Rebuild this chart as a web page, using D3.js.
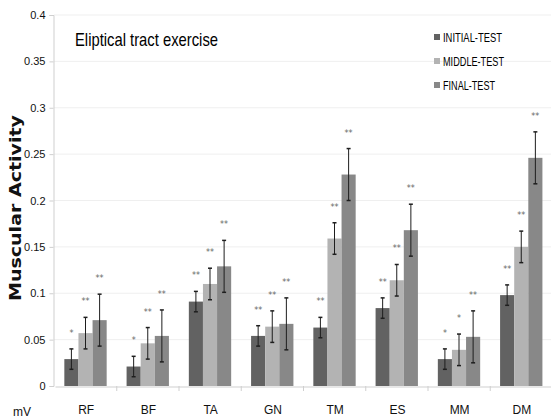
<!DOCTYPE html>
<html>
<head>
<meta charset="utf-8">
<script src="https://cdn.jsdelivr.net/npm/d3@7"></script>
<style>
  html, body { margin: 0; padding: 0; background: #fff; }
  text { font-family: "Liberation Sans Narrow", "Liberation Sans", Arial, sans-serif; }
</style>
</head>
<body>
<div id="chart"></div>
<script>
// Chart data
const categories = ['RF', 'BF', 'TA', 'GN', 'TM', 'ES', 'MM', 'DM'];
const seriesNames = ['INITIAL-TEST', 'MIDDLE-TEST', 'FINAL-TEST'];
const initialVals = [0.029, 0.021, 0.091, 0.054, 0.063, 0.084, 0.029, 0.098];
const middleVals  = [0.057, 0.046, 0.110, 0.064, 0.159, 0.114, 0.039, 0.150];
const finalVals   = [0.071, 0.054, 0.129, 0.067, 0.228, 0.168, 0.053, 0.246];
const initialErr  = [0.011, 0.011, 0.011, 0.011, 0.011, 0.011, 0.011, 0.011];
const middleErr   = [0.017, 0.017, 0.017, 0.017, 0.017, 0.017, 0.017, 0.017];
const finalErr    = [0.028, 0.028, 0.028, 0.028, 0.028, 0.028, 0.028, 0.028];
const initialSig  = ['*', '*', '**', '**', '**', '**', '*', '**'];
const middleSig   = ['**', '**', '**', '**', '**', '**', '*', '**'];
const finalSig    = ['**', '**', '**', '**', '**', '**', '**', '**'];
const yTicks = [0, 0.05, 0.1, 0.15, 0.2, 0.25, 0.3, 0.35, 0.4];

// Styling
const colors = { 'INITIAL-TEST': '#626262', 'MIDDLE-TEST': '#b3b3b3', 'FINAL-TEST': '#888888' };
const width = 551, height = 419;

const valueSets = [initialVals, middleVals, finalVals];
const errSets = [initialErr, middleErr, finalErr];
const sigSets = [initialSig, middleSig, finalSig];

const rows = [];
categories.forEach((cat, i) => {
    seriesNames.forEach((s, j) => {
        rows.push({ cat, series: s, value: valueSets[j][i], err: errSets[j][i], sig: sigSets[j][i] });
    });
});

const svg = d3.select('#chart')
    .append('svg')
    .attr('width', width)
    .attr('height', height)
    .style('display', 'block');

const y = d3.scaleLinear().domain([0, 0.4]).range([386, 15]);
const x0 = d3.scaleBand().domain(categories).range([55, 553]);
const x1 = d3.scaleBand().domain(seriesNames)
    .range([x0.bandwidth() * 0.15, x0.bandwidth() * 0.83]);

// Gridlines
svg.append('g')
    .selectAll('line')
    .data(yTicks.filter(d => d > 0))
    .join('line')
    .attr('x1', 54).attr('x2', width)
    .attr('y1', d => y(d)).attr('y2', d => y(d))
    .attr('stroke', '#efefef')
    .attr('stroke-width', 1);

// Y axis
const yAxis = svg.append('g')
    .attr('transform', 'translate(53.5,0)')
    .call(d3.axisLeft(y).tickValues(yTicks).tickFormat(d => d3.format('')(+d.toFixed(2))).tickSize(4));
yAxis.select('.domain').attr('stroke', '#cfcfcf');
yAxis.selectAll('.tick line').attr('stroke', '#cfcfcf');
yAxis.selectAll('.tick text')
    .attr('x', -8)
    .attr('fill', '#111')
    .style('font-size', '11px');

// X axis
const xAxis = svg.append('g')
    .attr('transform', `translate(0,${y(0) + 0.5})`)
    .call(d3.axisBottom(x0).tickSize(0).tickPadding(19));
xAxis.select('.domain').attr('stroke', '#cfcfcf');
xAxis.selectAll('.tick text')
    .attr('fill', '#111')
    .style('font-size', '12px');

// Category boundary ticks
svg.append('g')
    .selectAll('line')
    .data(categories.slice(1))
    .join('line')
    .attr('x1', d => x0(d) - 0.5).attr('x2', d => x0(d) - 0.5)
    .attr('y1', y(0)).attr('y2', y(0) + 5)
    .attr('stroke', '#cfcfcf');

svg.append('text')
    .attr('x', 22).attr('y', 416)
    .attr('text-anchor', 'middle')
    .attr('fill', '#111')
    .style('font-size', '12px')
    .text('mV');

// Bars
const groups = svg.append('g')
    .selectAll('g')
    .data(rows)
    .join('g')
    .attr('transform', d => `translate(${x0(d.cat) + x1(d.series)},0)`);

groups.append('rect')
    .attr('x', 0)
    .attr('width', x1.bandwidth())
    .attr('y', d => y(d.value))
    .attr('height', d => y(0) - y(d.value))
    .attr('fill', d => colors[d.series]);

// Error bars
const bw = x1.bandwidth();
groups.append('line')
    .attr('x1', bw / 2).attr('x2', bw / 2)
    .attr('y1', d => y(d.value + d.err))
    .attr('y2', d => y(d.value - d.err))
    .attr('stroke', '#1e1e1e')
    .attr('stroke-width', 1);
groups.selectAll('.cap')
    .data(d => [d.value + d.err, d.value - d.err])
    .join('line')
    .attr('class', 'cap')
    .attr('x1', bw / 2 - 2).attr('x2', bw / 2 + 2)
    .attr('y1', d => y(d)).attr('y2', d => y(d))
    .attr('stroke', '#1e1e1e')
    .attr('stroke-width', 1.5);

// Significance marks
groups.append('text')
    .attr('x', bw / 2)
    .attr('y', d => y(d.value + d.err) - 13)
    .attr('text-anchor', 'middle')
    .attr('fill', '#666')
    .style('font-size', '8px')
    .style('font-family', 'DejaVu Sans, sans-serif')
    .text(d => d.sig);

// Title
svg.append('text')
    .attr('x', 75).attr('y', 46)
    .attr('fill', '#000')
    .attr('textLength', 143)
    .attr('lengthAdjust', 'spacingAndGlyphs')
    .style('font-size', '19px')
    .text('Eliptical tract exercise');

// Y title
svg.append('text')
    .attr('transform', 'translate(21,208) rotate(-90)')
    .attr('text-anchor', 'middle')
    .attr('fill', '#111')
    .style('font-family', 'DejaVu Sans, sans-serif')
    .style('font-weight', 'bold')
    .style('font-size', '15.5px')
    .attr('textLength', 186)
    .attr('lengthAdjust', 'spacingAndGlyphs')
    .text('Muscular Activity');

// Legend
const legendWidths = [59, 61, 52];
const legend = svg.append('g')
    .selectAll('g')
    .data(seriesNames)
    .join('g')
    .attr('transform', (d, i) => `translate(434,${37 + i * 24})`);
legend.append('rect')
    .attr('x', 0).attr('y', -3)
    .attr('width', 6).attr('height', 6)
    .attr('fill', d => colors[d]);
legend.append('text')
    .attr('x', 9).attr('y', 4.5)
    .attr('fill', '#000')
    .style('font-size', '12px')
    .attr('textLength', (d, i) => legendWidths[i])
    .attr('lengthAdjust', 'spacingAndGlyphs')
    .text(d => d);
</script>
</body>
</html>
